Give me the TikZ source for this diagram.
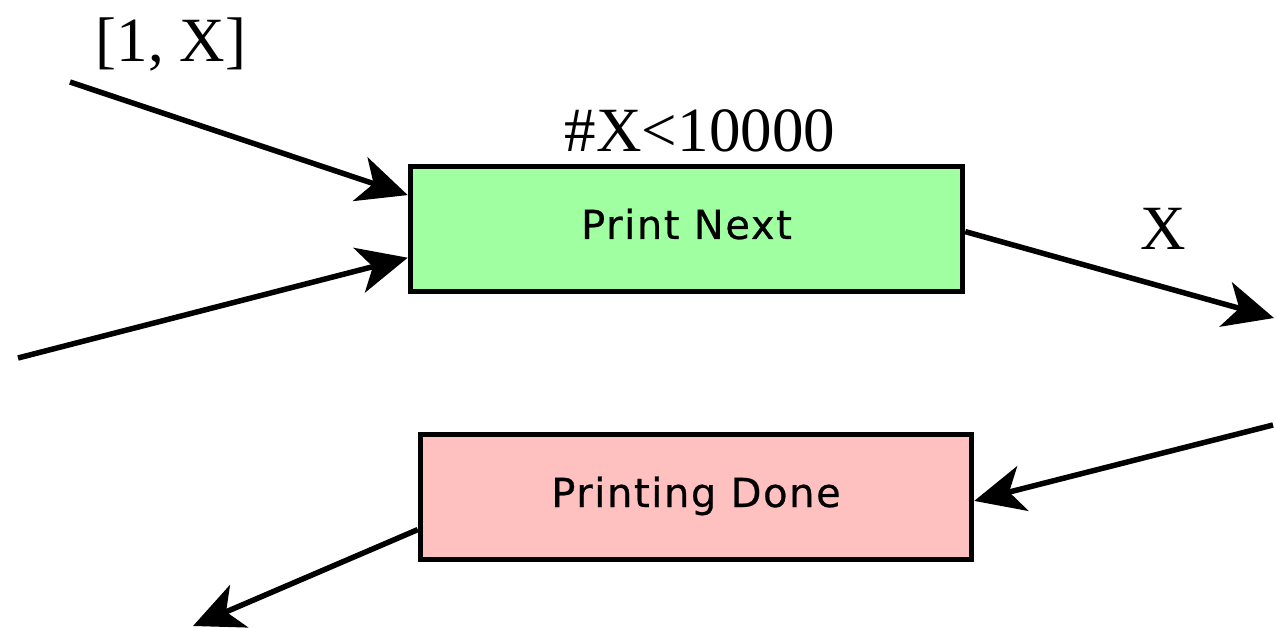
\documentclass[tikz,border=0pt]{standalone}
\usepackage{fontspec}
\setmainfont{Liberation Serif}
\newfontfamily\boxfont[LetterSpace=4,FakeBold=0.6]{DejaVu Sans}
\usetikzlibrary{arrows.meta,calc}
\definecolor{stategreen}{HTML}{A0FFA0}
\definecolor{statepink}{HTML}{FFC0C0}
\begin{document}
\begin{tikzpicture}[x=1pt,y=-1pt,
  statebox/.style={draw=black,line width=5.5pt,inner sep=0pt,
    minimum width=552pt,minimum height=125pt,
    text height=29pt,text depth=9pt,
    font=\boxfont\fontsize{40}{48}\selectfont},
  flow/.style={line width=5.5pt,
    -{Stealth[length=50pt,width=46pt,inset=14pt]}},
  lbl/.style={inner sep=0pt,anchor=base,font=\fontsize{63}{72}\selectfont}]
  \useasboundingbox (0,0) rectangle (1277,628);

  % states
  \node[statebox,fill=stategreen] (pn) at (686.5,229) {Print Next};
  \node[statebox,fill=statepink,minimum width=551pt] (pd) at (696,497) {Printing Done};

  % free ends of the connectors
  \coordinate (in1) at (70,82);
  \coordinate (in2) at (18,358);
  \coordinate (out1) at (1274,318);
  \coordinate (in3) at (1273,425);
  \coordinate (out2) at (193,626);

  % connectors
  \draw[flow] (in1) -- ($(pn.north west)!0.24!(pn.south west)$);
  \draw[flow] (in2) -- ($(pn.north west)!0.72!(pn.south west)$);
  \draw[flow] ($(pn.north east)!0.52!(pn.south east)$) -- (out1);
  \draw[flow] (in3) -- ($(pd.north east)!0.53!(pd.south east)$);
  \draw[flow] ($(pd.north west)!0.75!(pd.south west)$) -- (out2);

  % labels
  \node[lbl] (l1) at (171,62) {[1, X]};
  \node[lbl] (l2) at (700,152) {\#X<10000};
  \node[lbl] (l3) at (1163,250) {X};
\end{tikzpicture}
\end{document}
